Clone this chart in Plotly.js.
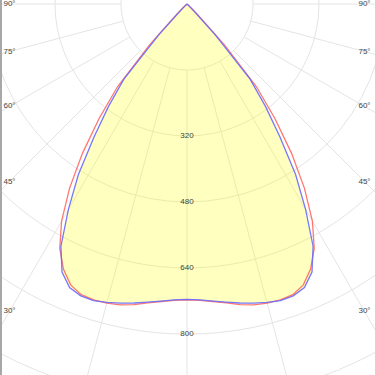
<!DOCTYPE html>
<html><head><meta charset="utf-8">
<script src="https://cdn.plot.ly/plotly-3.0.1.min.js"></script>
<style>
html,body{margin:0;padding:0;width:375px;height:375px;overflow:hidden;background:#fff;}
#wrap{position:relative;width:375px;height:375px;overflow:hidden;}
#chart{position:absolute;left:-275px;top:-458px;width:924px;height:924px;}
#edge{position:absolute;left:0;top:0;width:2px;height:375px;background:#a8a8a8;}
</style></head><body>
<div id="wrap"><div id="chart"></div><div id="edge"></div></div>
<script>
// gamma angles (deg) and luminous intensity (cd/klm) for the two planes
const gamma = [0,2.5,5,7.5,10,12.5,15,17.5,20,22.5,25,27.5,30,32.5,35,37.5,40,42.5,45,47.5,50,52.5,55,57.5,60,62.5,65,67.5,70,72.5,75,77.5,80,82.5,85,87.5,90];
const planeC0C180 = [717,719,724,731,740,747,751,752,750,737,709,668,608,530,442,350,262,135,35,8,0,0,0,0,0,0,0,0,0,0,0,0,0,0,0,0,0];
const planeC90C270 = [716,718,723,729,736,743,749,754,753,744,717,662,575,490,392,312,238,100,20,5,0,0,0,0,0,0,0,0,0,0,0,0,0,0,0,0,0];
const ringValues = [160,320,480,640,800,960];
const ringLabelValues = [320,480,640,800];
const ringLabelText = ['320','480','640','800'];
const spokeAngles = [-90,-75,-60,-45,-30,-15,0,15,30,45,60,75,90];
const angleLabelValues = [90,75,60,45,30];
const angleLabelText = ['90°','75°','60°','45°','30°'];

const RMAX = 1120;
const PX_PER_UNIT = 462 / RMAX;
const LABEL_DX = 177.5;

function plane(vals){
  const th=[], r=[];
  for(let i=gamma.length-1;i>=0;i--){th.push(-gamma[i]); r.push(vals[i]);}
  for(let i=1;i<gamma.length;i++){th.push(gamma[i]); r.push(vals[i]);}
  return {th, r};
}
const pA = plane(planeC0C180);
const pB = plane(planeC90C270);

const spokeR=[], spokeT=[];
spokeAngles.forEach(a=>{spokeR.push(ringValues[0], RMAX, null); spokeT.push(a, a, null);});

const lblR=[], lblT=[], lblTxt=[];
angleLabelValues.forEach((a,i)=>{
  const rr = LABEL_DX/Math.sin(a*Math.PI/180)/PX_PER_UNIT;
  lblR.push(rr, rr); lblT.push(-a, a); lblTxt.push(angleLabelText[i], angleLabelText[i]);
});

const font = {family:'Liberation Sans, Arial, sans-serif', size:8, color:'#444'};
const traces = [
  {type:'scatterpolar', mode:'lines', r:spokeR, theta:spokeT, line:{color:'#e4e4e4', width:1}, hoverinfo:'skip', connectgaps:false},
  {type:'scatterpolar', mode:'lines', r:pB.r, theta:pB.th, fill:'toself', fillcolor:'rgba(255,255,0,0.25)', line:{width:0}, hoverinfo:'skip'},
  {type:'scatterpolar', mode:'lines', r:pA.r, theta:pA.th, line:{color:'#ff6a60', width:1.3}, opacity:0.9},
  {type:'scatterpolar', mode:'lines', r:pB.r, theta:pB.th, line:{color:'#6a6aff', width:1.3}, opacity:0.9},
  {type:'scatterpolar', mode:'text', r:ringLabelValues, theta:ringLabelValues.map(()=>0), text:ringLabelText, textposition:'middle center', textfont:font, hoverinfo:'skip'},
  {type:'scatterpolar', mode:'text', r:lblR, theta:lblT, text:lblTxt, textposition:'middle center', textfont:font, hoverinfo:'skip', cliponaxis:false}
];
const layout = {
  width:924, height:924, margin:{l:0,r:0,t:0,b:0}, showlegend:false,
  paper_bgcolor:'#fff',
  polar:{
    domain:{x:[0,1], y:[0,1]}, bgcolor:'#fff',
    radialaxis:{range:[0,RMAX], tickvals:ringValues, showticklabels:false, ticks:'', showline:false, gridcolor:'#e4e4e4', gridwidth:1},
    angularaxis:{rotation:-90, direction:'counterclockwise', showgrid:false, showticklabels:false, ticks:'', showline:false}
  }
};
Plotly.newPlot('chart', traces, layout, {staticPlot:true, displayModeBar:false});
</script>
</body></html>
